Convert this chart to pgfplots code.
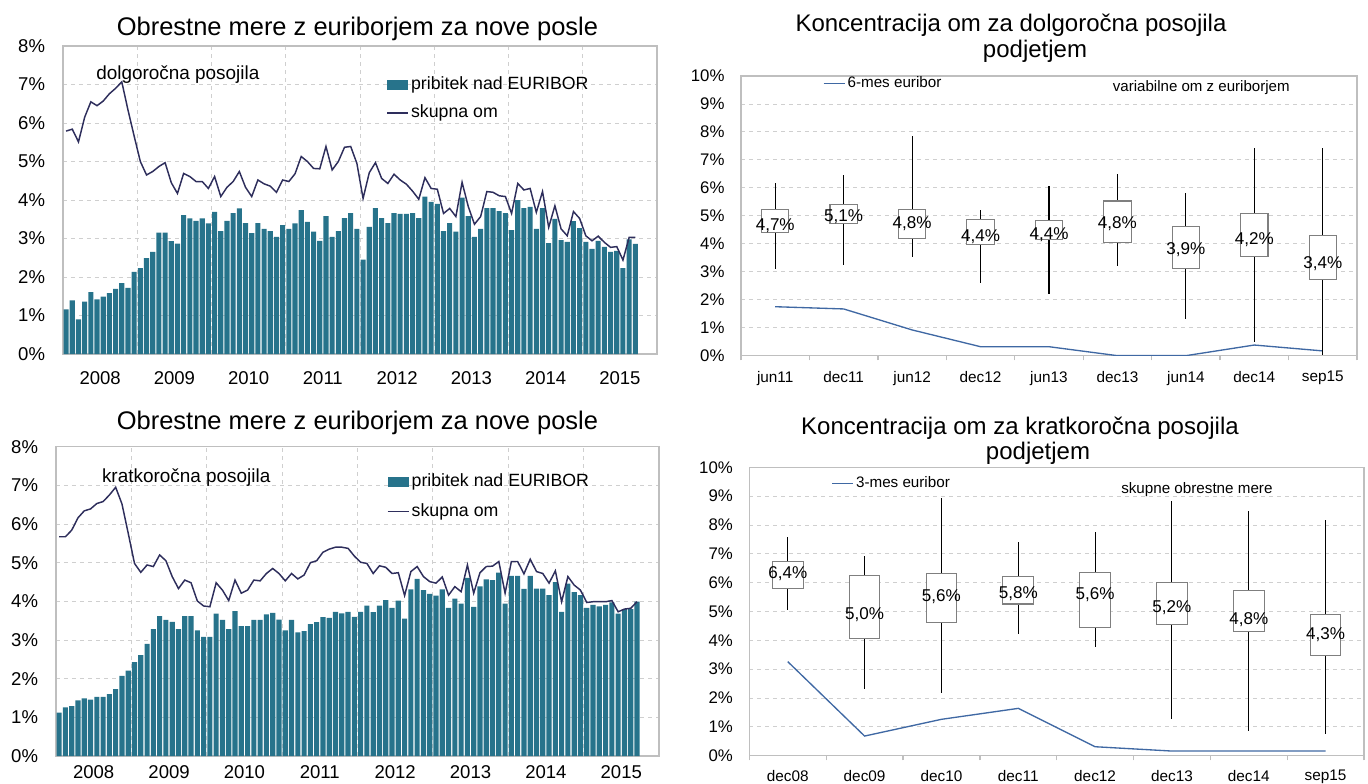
\documentclass[border=0pt]{standalone}
\usepackage{pgfplots}
\pgfplotsset{compat=1.18}
\usepackage{pgfplotstable}
\usepgfplotslibrary{statistics}
\usepackage{fontspec}
\setmainfont{Liberation Sans}
\definecolor{barc}{HTML}{27738B}
\definecolor{linec}{HTML}{2E2E5C}
\definecolor{eurc}{HTML}{3F68A3}
\definecolor{gridc}{HTML}{CFCFCF}
\definecolor{framec}{HTML}{BFBFBF}
\definecolor{boxc}{HTML}{7F7F7F}
\newcommand{\fs}[1]{\fontsize{#1}{#1}\selectfont}

% long-term loans: margin over EURIBOR (bar), total rate (line), Jan 2008 - Sep 2015
\pgfplotstableread{
bar line
1.16 5.79
1.39 5.84
0.90 5.51
1.36 6.15
1.61 6.55
1.42 6.45
1.49 6.57
1.58 6.76
1.69 6.90
1.84 7.07
1.72 6.34
2.13 5.66
2.23 5.00
2.49 4.65
2.65 4.74
3.15 4.87
3.15 4.97
2.93 4.45
2.87 4.17
3.61 4.69
3.52 4.61
3.46 4.48
3.52 4.48
3.39 4.30
3.69 4.61
3.19 4.09
3.46 4.33
3.66 4.48
3.78 4.74
3.40 4.33
3.14 4.09
3.40 4.52
3.25 4.42
3.19 4.36
3.04 4.20
3.35 4.52
3.25 4.48
3.39 4.68
3.74 5.13
3.43 5.00
3.18 4.82
2.94 4.81
3.58 5.39
3.04 4.78
3.19 5.00
3.53 5.37
3.66 5.39
3.25 4.95
2.45 4.04
3.30 4.71
3.79 4.97
3.53 4.56
3.40 4.43
3.66 4.67
3.64 4.52
3.64 4.41
3.66 4.23
3.53 4.02
4.09 4.58
3.95 4.30
3.90 4.28
3.19 3.65
3.40 3.78
3.18 3.57
4.06 4.46
3.58 3.83
3.04 3.37
3.25 3.57
3.79 4.22
3.79 4.20
3.71 4.11
3.66 4.09
3.22 3.65
4.00 4.43
3.79 4.26
3.82 4.30
3.25 3.68
3.79 4.22
2.88 3.29
3.51 3.85
2.96 3.25
2.91 3.07
3.45 3.70
3.27 3.52
2.91 3.07
2.73 2.94
2.94 3.06
2.78 2.90
2.65 2.77
2.68 2.79
2.23 2.44
2.98 3.03
2.86 3.03
}\tlong

% short-term loans
\pgfplotstableread{
bar line
1.12 5.67
1.26 5.67
1.29 5.84
1.44 6.16
1.49 6.34
1.46 6.39
1.53 6.53
1.53 6.58
1.60 6.75
1.73 6.95
2.07 6.52
2.21 5.76
2.43 4.98
2.61 4.75
2.90 4.94
3.28 4.90
3.62 5.20
3.52 5.05
3.47 4.64
3.28 4.33
3.62 4.55
3.62 4.48
3.25 4.01
3.08 3.88
3.08 3.86
3.68 4.48
3.52 4.29
3.28 4.02
3.75 4.55
3.36 4.21
3.36 4.29
3.52 4.55
3.52 4.53
3.66 4.72
3.70 4.85
3.53 4.72
3.25 4.53
3.52 4.72
3.20 4.58
3.23 4.68
3.41 5.00
3.46 5.05
3.59 5.27
3.57 5.35
3.73 5.40
3.69 5.40
3.73 5.37
3.60 5.17
3.73 5.01
3.89 4.98
3.72 4.72
3.89 4.92
4.03 4.88
3.83 4.72
4.02 4.74
3.55 4.15
4.31 4.77
4.58 4.90
4.29 4.64
4.19 4.51
4.15 4.47
4.31 4.63
3.83 4.16
4.07 4.38
3.94 4.25
4.61 4.94
3.86 4.21
4.39 4.74
4.57 4.90
4.55 4.91
4.74 5.03
3.94 4.21
4.66 5.03
4.66 5.03
4.32 4.71
4.66 5.09
4.33 4.77
4.33 4.72
4.16 4.47
4.50 4.79
3.73 3.99
4.46 4.64
4.24 4.42
4.16 4.29
3.83 3.97
3.91 3.99
3.87 3.99
3.91 3.99
3.97 4.02
3.68 3.73
3.80 3.80
3.80 3.82
3.99 3.99
}\tshort

\pgfplotsset{
  leftpanel/.style={
    scale only axis, anchor=south west,
    xmin=0, xmax=96, ymin=0, ymax=8,
    xtick={6,18,30,42,54,66,78,90},
    xticklabels={2008,2009,2010,2011,2012,2013,2014,2015},
    minor xtick={12,24,36,48,60,72,84},
    ytick={0,1,2,3,4,5,6,7,8},
    yticklabels={0\%,1\%,2\%,3\%,4\%,5\%,6\%,7\%,8\%},
    major tick length=0pt, minor tick length=0pt,
    xminorgrids=true, ymajorgrids=true,
    grid style={dashed, gridc, line width=0.6pt},
    minor grid style={dashed, gridc, line width=0.6pt},
    axis line style={framec, line width=1.1pt},
    tick label style={font=\fs{13.9}, inner sep=0pt},
    yticklabel style={xshift=-13.3pt},
    legend cell align=left,
    legend style={draw=none, fill=none, inner sep=0pt, font=\fs{13.3},
      anchor=north west, row sep=9pt, column sep=1.5pt,
      nodes={inner sep=0pt, text height=9.5pt, text depth=2.5pt}},
  },
  rightpanel/.style={
    scale only axis, anchor=south west,
    ymin=0, ymax=10,
    ytick={0,1,2,3,4,5,6,7,8,9,10},
    yticklabels={0\%,1\%,2\%,3\%,4\%,5\%,6\%,7\%,8\%,9\%,10\%},
    major tick length=0pt, minor tick length=3.5pt, tick align=outside,
    xtick pos=bottom, ytick pos=left,
    minor tick style={framec, line width=1pt},
    ymajorgrids=true,
    grid style={dashed, gridc, line width=0.6pt},
    axis line style={framec, line width=1.1pt},
    yticklabel style={font=\fs{12.6}, inner sep=0pt, xshift=-12.2pt},
    xticklabel style={font=\fs{11.5}, inner sep=0pt},
    legend cell align=left,
    legend style={draw=none, fill=none, inner sep=0pt, font=\fs{11.4},
      anchor=west, column sep=1.5pt,
      nodes={inner sep=0pt, text height=8.5pt, text depth=2.2pt}},
  },
  mybox/.style={black, forget plot,
    boxplot prepared={#1, draw direction=y, box extend=0.4, whisker extend=0,
      every box/.style={draw=boxc, fill=white, line width=0.8pt},
      every whisker/.style={black, line width=0.8pt},
      every median/.style={draw=none}}},
  boxlab/.style={draw=none, mark=none, forget plot, nodes near coords,
    point meta=explicit symbolic,
    every node near coord/.style={anchor=center, font=\fs{12.8}, inner sep=0pt, text=black}},
}

\begin{document}
\begin{tikzpicture}[x=1pt,y=1pt]
\path[use as bounding box] (0,0) rectangle (1026,587.25);

% ---------- top left ----------
\begin{axis}[leftpanel, at={(47.25pt,321.75pt)}, width=445.5pt, height=231pt,
  xticklabel style={yshift=-12.7pt},
  legend style={at={(0.5438,0.900)}}]
\addplot[ybar, bar width=0.82, bar shift=0pt, fill=barc, draw=none,
  legend image code/.code={\fill[barc] (0pt,-3.75pt) rectangle (16pt,3.75pt);}]
  table[x expr=\coordindex+0.5, y=bar] {\tlong};
\addlegendentry{pribitek nad EURIBOR}
\addplot[linec, line width=1.1pt, mark=none,
  legend image code/.code={\draw[linec, line width=1.1pt] (0pt,0pt) -- (16pt,0pt);}]
  table[x expr=\coordindex+0.5, y=line] {\tlong};
\addlegendentry{skupna om}
\end{axis}

% ---------- bottom left ----------
\begin{axis}[leftpanel, at={(42pt,20.25pt)}, width=452.25pt, height=232pt,
  xticklabel style={yshift=-7pt},
  legend style={at={(0.5483,0.912)}, row sep=10pt}]
\addplot[ybar, bar width=0.82, bar shift=0pt, fill=barc, draw=none,
  legend image code/.code={\fill[barc] (0pt,-3.75pt) rectangle (16pt,3.75pt);}]
  table[x expr=\coordindex+0.5, y=bar] {\tshort};
\addlegendentry{pribitek nad EURIBOR}
\addplot[linec, line width=1.1pt, mark=none,
  legend image code/.code={\draw[linec, line width=1.1pt] (0pt,0pt) -- (16pt,0pt);}]
  table[x expr=\coordindex+0.5, y=line] {\tshort};
\addlegendentry{skupna om}
\end{axis}

% ---------- top right ----------
\begin{axis}[rightpanel, at={(555.75pt,320.5pt)}, width=462pt, height=209.8pt,
  xmin=-0.5, xmax=8.5,
  xtick={0,1,2,3,4,5,6,7,8},
  xticklabels={jun11,dec11,jun12,dec12,jun13,dec13,jun14,dec14,sep15},
  minor xtick={-0.5,0.5,1.5,2.5,3.5,4.5,5.5,6.5,7.5,8.5},
  xticklabel style={yshift=-11.5pt},
  legend style={at={(0.1326,0.972)}}]
\addplot[eurc, line width=1pt, mark=none,
  legend image code/.code={\draw[eurc, line width=1pt] (0pt,0pt) -- (16pt,0pt);}]
  coordinates {(0,1.75) (1,1.67) (2,0.92) (3,0.32) (4,0.32) (5,0.00) (6,0.00) (7,0.38) (8,0.17)};
\addlegendentry{6-mes euribor}
\addplot[mybox={draw position=0, lower whisker=3.10, lower quartile=4.39, median=4.7, upper quartile=5.22, upper whisker=6.16}] coordinates {};
\addplot[mybox={draw position=1, lower whisker=3.25, lower quartile=4.72, median=5.1, upper quartile=5.41, upper whisker=6.46}] coordinates {};
\addplot[mybox={draw position=2, lower whisker=3.54, lower quartile=4.18, median=4.8, upper quartile=5.22, upper whisker=7.85}] coordinates {};
\addplot[mybox={draw position=3, lower whisker=2.61, lower quartile=3.98, median=4.4, upper quartile=4.87, upper whisker=5.21}] coordinates {};
\addplot[mybox={draw position=4, lower whisker=2.20, lower quartile=4.16, median=4.4, upper quartile=4.84, upper whisker=6.07}] coordinates {};
\addplot[mybox={draw position=5, lower whisker=3.22, lower quartile=4.05, median=4.8, upper quartile=5.53, upper whisker=6.50}] coordinates {};
\addplot[mybox={draw position=6, lower whisker=1.32, lower quartile=3.12, median=3.9, upper quartile=4.61, upper whisker=5.82}] coordinates {};
\addplot[mybox={draw position=7, lower whisker=0.49, lower quartile=3.55, median=4.2, upper quartile=5.07, upper whisker=7.43}] coordinates {};
\addplot[mybox={draw position=8, lower whisker=0.02, lower quartile=2.71, median=3.4, upper quartile=4.30, upper whisker=7.43}] coordinates {};
\addplot[boxlab] table[meta=lab] {
x y lab
0 4.65 {4,7\%}
1 4.97 {5,1\%}
2 4.73 {4,8\%}
3 4.25 {4,4\%}
4 4.31 {4,4\%}
5 4.73 {4,8\%}
6 3.78 {3,9\%}
7 4.14 {4,2\%}
8 3.28 {3,4\%}
};
\end{axis}

% ---------- bottom right ----------
\begin{axis}[rightpanel, at={(562pt,20.5pt)}, width=461pt, height=216.3pt,
  xmin=-0.5, xmax=7.5,
  xtick={0,1,2,3,4,5,6,7},
  xticklabels={dec08,dec09,dec10,dec11,dec12,dec13,dec14,sep15},
  minor xtick={-0.5,0.5,1.5,2.5,3.5,4.5,5.5,6.5,7.5},
  xticklabel style={yshift=-10.7pt},
  legend style={at={(0.1331,0.944)}}]
\addplot[eurc, line width=1pt, mark=none,
  legend image code/.code={\draw[eurc, line width=1pt] (0pt,0pt) -- (16pt,0pt);}]
  coordinates {(0,3.26) (1,0.68) (2,1.26) (3,1.64) (4,0.31) (5,0.16) (6,0.16) (7,0.16)};
\addlegendentry{3-mes euribor}
\addplot[mybox={draw position=0, lower whisker=5.05, lower quartile=5.79, median=6.4, upper quartile=6.72, upper whisker=7.57}] coordinates {};
\addplot[mybox={draw position=1, lower whisker=2.31, lower quartile=4.07, median=5.0, upper quartile=6.24, upper whisker=6.91}] coordinates {};
\addplot[mybox={draw position=2, lower whisker=2.18, lower quartile=4.62, median=5.6, upper quartile=6.32, upper whisker=8.92}] coordinates {};
\addplot[mybox={draw position=3, lower whisker=4.21, lower quartile=5.26, median=5.8, upper quartile=6.21, upper whisker=7.40}] coordinates {};
\addplot[mybox={draw position=4, lower whisker=3.78, lower quartile=4.45, median=5.6, upper quartile=6.35, upper whisker=7.75}] coordinates {};
\addplot[mybox={draw position=5, lower whisker=1.26, lower quartile=4.55, median=5.2, upper quartile=5.99, upper whisker=8.82}] coordinates {};
\addplot[mybox={draw position=6, lower whisker=0.87, lower quartile=4.31, median=4.8, upper quartile=5.73, upper whisker=8.49}] coordinates {};
\addplot[mybox={draw position=7, lower whisker=0.76, lower quartile=3.48, median=4.3, upper quartile=4.90, upper whisker=8.17}] coordinates {};
\addplot[boxlab] table[meta=lab] {
x y lab
0 6.30 {6,4\%}
1 4.90 {5,0\%}
2 5.51 {5,6\%}
3 5.63 {5,8\%}
4 5.57 {5,6\%}
5 5.13 {5,2\%}
6 4.73 {4,8\%}
7 4.18 {4,3\%}
};
\end{axis}

% ---------- titles and annotations ----------
\node[anchor=base, font=\fs{19.1}, inner sep=0pt] at (268.1,560.25) {Obrestne mere z euriborjem za nove posle};
\node[anchor=base, font=\fs{19.1}, inner sep=0pt] at (268.1,264.75) {Obrestne mere z euriborjem za nove posle};
\node[anchor=base, font=\fs{18}, inner sep=0pt] at (758.25,563.25) {Koncentracija om za dolgoročna posojila};
\node[anchor=base, font=\fs{18}, inner sep=0pt] at (776.25,543.75) {podjetjem};
\node[anchor=base, font=\fs{18}, inner sep=0pt] at (765,261) {Koncentracija om za kratkoročna posojila};
\node[anchor=base, font=\fs{18}, inner sep=0pt] at (778.5,242.25) {podjetjem};
\node[anchor=base west, font=\fs{14.2}, inner sep=0pt] at (72,527.25) {dolgoročna posojila};
\node[anchor=base west, font=\fs{14.2}, inner sep=0pt] at (76.3,225.5) {kratkoročna posojila};
\node[anchor=base west, font=\fs{11.3}, inner sep=0pt] at (834.5,518.5) {variabilne om z euriborjem};
\node[anchor=base west, font=\fs{11.4}, inner sep=0pt] at (840.75,217.3) {skupne obrestne mere};
\end{tikzpicture}
\end{document}
